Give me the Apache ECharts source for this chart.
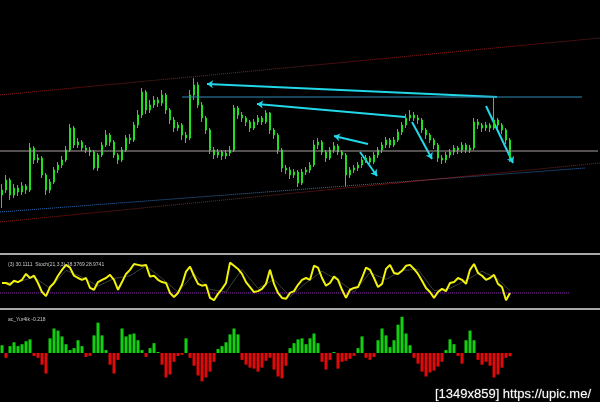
<!DOCTYPE html>
<html><head><meta charset="utf-8">
<script src="https://cdn.jsdelivr.net/npm/echarts@6/dist/echarts.min.js"></script>
<style>html,body{margin:0;padding:0;background:#000}#c{width:600px;height:402px}</style>
</head><body><div id="c"></div>
<script>
// ---- data ----
const barCount = 150; // slots on the time axis (bars 0..127 filled)
const firstOpen = 55;
const closes = [60,70,55,62,58,64,60,102,90,92,75,60,68,80,85,90,100,122,105,108,102,100,98,82,95,105,115,108,95,90,100,112,110,125,135,158,140,145,150,147,155,140,130,122,125,115,112,155,165,145,132,120,100,95,98,94,97,100,142,135,132,128,122,128,132,128,137,120,115,100,82,80,75,78,67,78,80,85,105,108,98,92,100,104,98,95,75,80,82,85,90,92,88,95,100,105,110,105,110,118,125,132,135,132,130,120,115,110,105,92,90,95,98,102,100,105,100,102,128,125,122,125,122,130,125,120,110,92];
const highs = [66,75,72,66,65,68,66,107,104,96,94,77,71,83,88,94,104,126,124,112,110,105,103,100,97,108,120,117,110,97,103,115,116,128,140,162,160,150,154,153,160,157,142,133,128,127,118,160,172,168,148,134,122,103,101,100,100,104,145,144,138,134,130,131,135,134,140,138,122,117,102,85,83,81,80,81,83,88,110,112,110,100,103,108,106,100,97,83,85,88,93,95,94,98,103,108,113,112,113,121,128,136,140,138,135,132,122,117,112,107,95,98,101,105,104,108,107,105,132,131,127,128,127,153,132,127,122,112];
const lows = [42,57,50,52,54,55,56,58,86,87,72,55,57,66,77,82,88,98,102,102,99,97,94,80,79,93,103,104,92,86,88,98,106,108,122,132,136,137,142,143,144,136,126,118,119,110,107,110,150,142,128,116,96,91,92,90,91,94,98,131,128,124,118,120,125,125,126,116,111,96,78,76,71,72,63,65,75,77,83,101,95,88,90,97,95,91,63,72,77,79,82,87,85,86,92,97,102,102,103,108,115,122,129,129,126,117,111,107,101,88,86,87,92,95,96,97,97,97,100,121,118,119,118,120,121,116,106,88];
const stochMain = [42,42,38,47,44,49,62,53,58,42,22,13,33,42,58,71,82,76,58,53,49,53,31,27,44,49,53,60,49,27,44,62,71,84,82,80,82,56,58,49,44,42,20,11,20,38,67,78,58,40,36,38,9,4,18,29,42,87,80,73,62,44,33,22,24,29,40,71,40,20,9,7,20,24,38,49,53,49,80,76,53,36,42,56,49,27,9,27,31,33,53,76,71,53,33,40,73,82,64,62,69,80,82,73,62,47,31,22,9,22,29,24,42,44,53,49,40,71,84,64,58,49,53,60,40,33,4,20];
const stochSignal = [[0,42],[4,44],[8,55],[12,30],[16,70],[20,55],[24,35],[28,52],[32,58],[36,80],[40,52],[44,22],[48,62],[52,28],[56,22],[60,72],[64,30],[68,50],[72,12],[76,42],[80,68],[84,48],[88,22],[92,65],[96,50],[100,70],[104,72],[108,25],[112,30],[116,48],[120,68],[124,50],[127,25]];
const stochLevel = 20;
const stochLevelEnd = 142;
const histogram = [0.53,-0.33,0.47,0.73,0.47,0.6,0.8,0.93,-0.2,-0.33,-0.8,-1.4,1.0,1.67,1.53,1.13,0.6,0.2,0.33,0.87,0.47,-0.27,-0.2,1.2,2.07,1.2,0.2,-0.8,-1.4,-0.47,1.67,1.13,1.27,1.33,0.87,0.2,-0.27,0.33,0.67,0.07,-0.8,-1.67,-1.47,-0.6,-0.2,-0.13,1.0,-0.33,-0.87,-1.53,-1.93,-1.67,-1.27,-0.6,0.27,0.47,0.73,1.27,1.67,1.27,-0.47,-0.8,-1.0,-1.07,-1.27,-1.0,-0.53,-0.33,-1.13,-1.6,-1.73,-0.87,0.33,0.67,0.93,1.0,0.6,1.0,1.33,0.67,-0.6,-1.13,-0.47,0.07,-1.07,-0.6,-0.53,-0.4,-0.2,0.33,1.13,-0.33,-0.47,-0.27,0.87,1.67,1.2,0.4,0.87,1.93,2.47,1.33,0.53,-0.33,-0.73,-1.27,-1.6,-1.33,-1.2,-0.93,-0.6,0.2,0.93,0.6,-0.2,-0.73,0.87,1.53,0.87,-0.47,-0.8,-0.6,-0.87,-1.67,-1.47,-1.0,-0.33,-0.22];
const channelUpper = [[-0.5,155],[149.5,212]];
const channelLower = [[-0.5,28],[149.5,87]];
const blueChannel = [[-0.5,38],[145.75,82]];
const pivotLine = [[-0.5,99],[149,99]];
const resistLine = [[45,153],[145,153]];
const arrows = [
  [[123.75,153],[51.25,166]],
  [[100.75,133],[63.75,146]],
  [[91.5,106],[83,114]],
  [[89.5,98],[93.75,74]],
  [[102.5,128],[107.5,91]],
  [[121,144],[127.75,87]]
];
const stochLabel = '(3) 30.1111  Stoch(21,3,3) 18.3769 28.9741';
const histLabel = 'ac_Yur4ik -0.218';
const watermark = '[1349x859] https://upic.me/';

// ---- chart ----
const cats = Array.from({length: barCount}, (_, i) => String(i));
const ohlc = closes.map((c, i) => [i ? closes[i - 1] : firstOpen, c, lows[i], highs[i]]);
const chart = echarts.init(document.getElementById('c'), null, {renderer: 'canvas'});
const sepLine = {show: true, onZero: false, lineStyle: {color: '#a9a9a9', width: 2}};
const lineS = (data, color, type, width, xi, yi) => ({
  type: 'line', xAxisIndex: xi, yAxisIndex: yi, data, symbol: 'none', silent: true,
  lineStyle: {color, type, width}
});
chart.setOption({
  backgroundColor: '#000',
  animation: false,
  title: [
    {text: stochLabel, left: 3, top: 257, textStyle: {color: '#c8c8c8', fontSize: 5, fontWeight: 'normal', fontFamily: 'Liberation Sans'}},
    {text: histLabel, left: 3, top: 312, textStyle: {color: '#c8c8c8', fontSize: 5, fontWeight: 'normal', fontFamily: 'Liberation Sans'}},
    {text: watermark, right: 3, top: 383, textStyle: {color: '#ffffff', fontSize: 13, fontWeight: 'normal', fontFamily: 'Liberation Sans', textBorderColor: '#333', textBorderWidth: 1}}
  ],
  grid: [
    {left: 0, right: 0, top: 0, height: 250},
    {left: 0, right: 0, top: 254, height: 48},
    {left: 0, right: 0, top: 309, height: 88}
  ],
  xAxis: [
    {type: 'category', gridIndex: 0, data: cats, show: false},
    {type: 'value', gridIndex: 0, min: -0.5, max: barCount - 0.5, show: false},
    {type: 'category', gridIndex: 1, data: cats, position: 'top', axisLine: sepLine, axisTick: {show: false}, axisLabel: {show: false}, splitLine: {show: false}},
    {type: 'value', gridIndex: 1, min: -0.5, max: barCount - 0.5, show: false},
    {type: 'category', gridIndex: 2, data: cats, position: 'top', axisLine: sepLine, axisTick: {show: false}, axisLabel: {show: false}, splitLine: {show: false}}
  ],
  yAxis: [
    {type: 'value', gridIndex: 0, min: 0, max: 250, show: false},
    {type: 'value', gridIndex: 1, min: 0, max: 106, show: false},
    {type: 'value', gridIndex: 2, min: -3, max: 3, show: false}
  ],
  series: [
    lineS(pivotLine, '#a8a0a0', 'solid', 1, 1, 0),
    lineS(channelUpper, '#8a1c1c', 'dotted', 1, 1, 0),
    lineS(channelLower, '#8a1c1c', 'dotted', 1, 1, 0),
    lineS(blueChannel, '#2e6fb8', 'dotted', 1, 1, 0),
    lineS(resistLine, '#2f8db5', 'solid', 1, 1, 0),
    {
      type: 'candlestick', xAxisIndex: 0, yAxisIndex: 0, data: ohlc, barWidth: 2,
      itemStyle: {color: '#1ee01e', color0: '#1ee01e', borderColor: '#1ee01e', borderColor0: '#1ee01e', borderWidth: 1}
    },
    {
      type: 'lines', coordinateSystem: 'cartesian2d', xAxisIndex: 1, yAxisIndex: 0,
      data: arrows.map(a => ({coords: a})), symbol: ['none', 'arrow'], symbolSize: 6,
      lineStyle: {color: '#22d8e8', width: 2, opacity: 1}, silent: true
    },
    lineS(stochSignal, '#3a3f3a', 'solid', 1, 3, 1),
    lineS([[-0.5, stochLevel], [stochLevelEnd, stochLevel]], '#8a2ab0', 'dotted', 1, 3, 1),
    lineS(stochMain, '#f2f20a', 'solid', 2, 2, 1),
    {
      type: 'bar', xAxisIndex: 4, yAxisIndex: 2, data: histogram, barWidth: 3,
      itemStyle: {color: p => p.value >= 0 ? '#10d010' : '#e00a0a'}
    }
  ]
});
</script></body></html>
